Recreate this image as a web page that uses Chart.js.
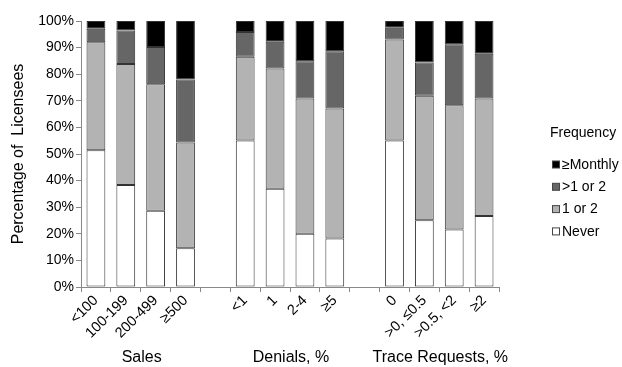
<!DOCTYPE html>
<html>
<head>
<meta charset="utf-8">
<script src="https://cdn.jsdelivr.net/npm/chart.js@4"></script>
<style>
  html, body { margin: 0; padding: 0; background: #fff; }
  #wrap { width: 622px; height: 367px; }
</style>
</head>
<body>
<div id="wrap"><canvas id="grafico" width="622" height="367"></canvas></div>
<script>
// categorias (os vazios sao os espacos entre grupos)
const categorias = ['<100', '100-199', '200-499', '\u2265500', '',
  '<1', '1', '2-4', '\u22655', '',
  '0', '>0, \u22640.5', '>0.5, <2', '\u22652'];
const grupos = [
  { nome: 'Sales', de: 0, ate: 3 },
  { nome: 'Denials, %', de: 5, ate: 8 },
  { nome: 'Trace Requests, %', de: 10, ate: 13 }
];
const rotulosY = ['0%', '10%', '20%', '30%', '40%', '50%', '60%', '70%', '80%', '90%', '100%'];

// valores (% de licenciados)
const nunca   = [51.4, 38.3, 28.7, 14.6, null, 55.1, 36.9, 20.0, 18.2, null, 55.1, 25.1, 21.6, 26.7];
const umOuDois = [40.6, 45.5, 47.5, 39.7, null, 31.5, 45.2, 50.9, 48.9, null, 37.9, 46.8, 46.7, 44.2];
const maisDeUm = [5.1, 12.6, 14.0, 23.7, null, 9.3, 10.1, 14.0, 21.5, null, 4.5, 12.5, 23.0, 16.8];
const mensal   = [2.9, 3.6, 9.8, 22.0, null, 4.1, 7.8, 15.1, 11.4, null, 2.5, 15.6, 8.7, 12.3];

const fonte = "'Liberation Sans', Arial, sans-serif";

const series = [
  { label: 'Never', data: nunca, cor: '#ffffff' },
  { label: '1 or 2', data: umOuDois, cor: '#b3b3b3' },
  { label: '>1 or 2', data: maisDeUm, cor: '#666666' },
  { label: '\u2265Monthly', data: mensal, cor: '#000000' }
];

// nomes dos grupos sob o eixo x
const pluginGrupos = {
  id: 'grupos',
  afterDraw(chart) {
    const ctx = chart.ctx;
    const x = chart.scales.x;
    ctx.save();
    ctx.font = '16px ' + fonte;
    ctx.fillStyle = '#000';
    ctx.textAlign = 'center';
    ctx.textBaseline = 'middle';
    grupos.forEach(g => {
      const cx = (x.getPixelForValue(g.de) + x.getPixelForValue(g.ate)) / 2;
      ctx.fillText(g.nome, cx + 1, 358);
    });
    ctx.restore();
  }
};

// legenda desenhada a mao (ordem invertida, com titulo)
const pluginLegenda = {
  id: 'legendaFreq',
  afterDraw(chart) {
    const ctx = chart.ctx;
    ctx.save();
    ctx.font = '14px ' + fonte;
    ctx.fillStyle = '#000';
    ctx.textBaseline = 'middle';
    ctx.fillText('Frequency', 550, 133);
    const itens = series.slice().reverse();
    itens.forEach((s, i) => {
      const y = 165 + i * 22.3;
      ctx.fillStyle = s.cor;
      ctx.fillRect(552.5, y - 4, 7, 7);
      ctx.strokeStyle = '#444';
      ctx.lineWidth = 1;
      ctx.strokeRect(552.5, y - 4, 7, 7);
      ctx.fillStyle = '#000';
      ctx.fillText(s.label, 562, y);
    });
    ctx.restore();
  }
};

new Chart(document.getElementById('grafico'), {
  type: 'bar',
  data: {
    labels: categorias,
    datasets: series.map(s => ({
      label: s.label,
      data: s.data,
      backgroundColor: s.cor,
      borderColor: '#333333',
      borderWidth: 1,
      borderSkipped: false,
      barPercentage: 0.63,
      categoryPercentage: 1
    }))
  },
  options: {
    responsive: false,
    animation: false,
    layout: { padding: { top: 21, right: 123, left: 0, bottom: 0 } },
    plugins: {
      legend: { display: false },
      tooltip: { enabled: false }
    },
    scales: {
      x: {
        stacked: true,
        grid: { drawOnChartArea: false, drawTicks: true, tickLength: 5, color: '#888', offset: true },
        border: { color: '#888', width: 1 },
        ticks: {
          color: '#000',
          font: { family: fonte, size: 14.5 },
          minRotation: 45,
          maxRotation: 45,
          autoSkip: false,
          padding: 0
        },
        afterFit(scale) { scale.height = 80; }
      },
      y: {
        stacked: true,
        min: 0,
        max: 100,
        grid: { drawOnChartArea: false, drawTicks: true, tickLength: 5, color: '#888' },
        border: { color: '#888', width: 1 },
        ticks: {
          stepSize: 10,
          color: '#000',
          font: { family: fonte, size: 14 },
          padding: 2,
          callback: (v) => rotulosY[Math.round(v / 10)]
        },
        title: {
          display: true,
          text: 'Percentage of  Licensees',
          color: '#000',
          font: { family: fonte, size: 16 },
          padding: { top: 9, bottom: 4 }
        },
        afterFit(scale) { scale.width = 81; }
      }
    }
  },
  plugins: [pluginGrupos, pluginLegenda]
});
</script>
</body>
</html>
